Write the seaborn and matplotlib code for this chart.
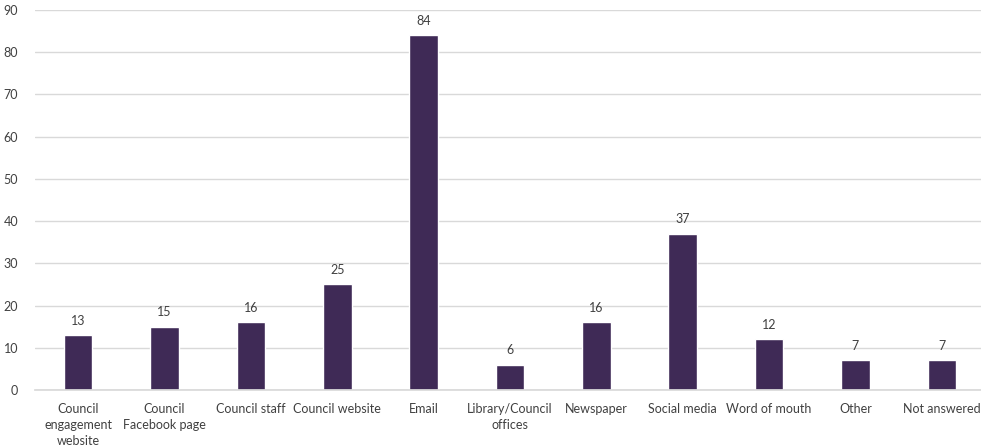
import matplotlib
matplotlib.use("Agg")
import matplotlib.pyplot as plt
import seaborn as sns
import pandas as pd

categories = ["Council\nengagement\nwebsite", "Council\nFacebook page", "Council staff",
              "Council website", "Email", "Library/Council\noffices", "Newspaper",
              "Social media", "Word of mouth", "Other", "Not answered"]
values = [13, 15, 16, 25, 84, 6, 16, 37, 12, 7, 7]
yticks = [0, 10, 20, 30, 40, 50, 60, 70, 80, 90]

sns.set_theme(style="white")
plt.rcParams['font.family'] = ['Lato', 'DejaVu Sans']

df = pd.DataFrame({"cat": categories, "val": values})
fig = plt.figure(figsize=(9.81, 4.48), dpi=100)
ax = fig.add_axes([35/981, 58/448, 950/981, 380/448])
sns.barplot(data=df, x="cat", y="val", color="#3F2A56", width=0.33, ax=ax, saturation=1)
ax.set_xlim(-0.5, len(categories) - 0.5)
ax.set_ylim(0, 90)
ax.set_yticks(yticks)
ax.grid(axis="y", color="#D9D9D9", linewidth=1)
ax.set_axisbelow(True)
for s in ["top", "right", "left"]:
    ax.spines[s].set_visible(False)
ax.spines["bottom"].set_color("#D9D9D9")
ax.set_xlabel("")
ax.set_ylabel("")
ax.tick_params(axis="both", length=0, labelsize=9, labelcolor="#404040")
ax.tick_params(axis="y", pad=12)
ax.tick_params(axis="x", pad=9)
for lbl in ax.get_xticklabels():
    lbl.set_linespacing(1.4)
for c in ax.containers:
    ax.bar_label(c, padding=6, fontsize=9, color="#404040")
fig.savefig("out.png", dpi=100)
